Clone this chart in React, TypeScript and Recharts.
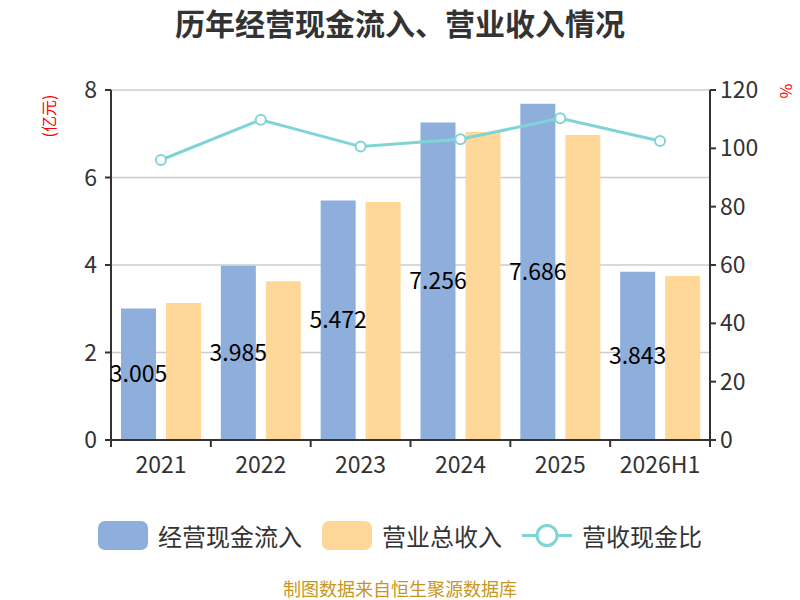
import React from 'react';
import {
  ComposedChart,
  Bar,
  Line,
  CartesianGrid,
  XAxis,
  YAxis,
  LabelList,
} from 'recharts';

const years = ['2021', '2022', '2023', '2024', '2025', '2026H1'];
const cashInflow = [3.005, 3.985, 5.472, 7.256, 7.686, 3.843];
const revenue = [3.13, 3.63, 5.44, 7.04, 6.97, 3.75];
const ratio = [96.0, 109.8, 100.6, 103.1, 110.3, 102.5];
const leftTicks = [0, 2, 4, 6, 8];
const rightTicks = [0, 20, 40, 60, 80, 100, 120];

const BLUE = '#8EAEDB';
const ORANGE = '#FFD899';
const TEAL = '#80D4D6';
const TEXT = '#333';
const FONT = '"Noto Sans CJK SC", "Noto Sans", sans-serif';

const W = 800;
const H = 600;
const MARGIN = { top: 90, right: 30, bottom: 120, left: 51 };
const Y_W = 60;
const HALF_BAND = (W - MARGIN.left - MARGIN.right - Y_W * 2) / years.length / 2;

const data = years.map((year, i) => ({
  year,
  cash: cashInflow[i],
  revenue: revenue[i],
  ratio: ratio[i],
}));

const XTick = (props: any) => {
  const { x, y, payload, index } = props;
  return (
    <g>
      <line x1={x - HALF_BAND} y1={y} x2={x - HALF_BAND} y2={y + 7} stroke={TEXT} strokeWidth={2} />
      {index === years.length - 1 && (
        <line x1={x + HALF_BAND} y1={y} x2={x + HALF_BAND} y2={y + 7} stroke={TEXT} strokeWidth={2} />
      )}
      <text x={x} y={y + 33} textAnchor="middle" fill={TEXT} fontSize={23} fontFamily={FONT}>
        {payload.value}
      </text>
    </g>
  );
};

const LegendItem = ({ kind, color, label }: { kind: 'bar' | 'line'; color: string; label: string }) => (
  <div style={{ display: 'flex', alignItems: 'center', marginRight: 20 }}>
    {kind === 'bar' ? (
      <div style={{ width: 50, height: 29, borderRadius: 7, background: color, marginRight: 10 }} />
    ) : (
      <svg width={50} height={29} style={{ marginRight: 10 }}>
        <line x1={0} y1={14.5} x2={50} y2={14.5} stroke={color} strokeWidth={3} />
        <circle cx={25} cy={14.5} r={10} fill="#fff" stroke={color} strokeWidth={3} />
      </svg>
    )}
    <span style={{ fontSize: 24, color: TEXT, lineHeight: '29px' }}>{label}</span>
  </div>
);

const App = () => {
  return (
    <div style={{ position: 'absolute', left: 0, top: 0, width: W, height: H, background: '#fff', fontFamily: FONT }}>
      <div
        style={{
          position: 'absolute',
          top: 2,
          width: W,
          textAlign: 'center',
          fontSize: 30,
          lineHeight: '40px',
          fontWeight: 'bold',
          color: TEXT,
        }}
      >
        历年经营现金流入、营业收入情况
      </div>
      <ComposedChart width={W} height={H} data={data} margin={MARGIN} barCategoryGap="10%" barGap={10}>
        <CartesianGrid vertical={false} stroke="#ccc" strokeWidth={1.5} yAxisId="left" />
        <XAxis
          dataKey="year"
          tick={<XTick />}
          tickLine={false}
          tickSize={0}
          tickMargin={0}
          axisLine={{ stroke: TEXT, strokeWidth: 2 }}
          interval={0}
          height={40}
        />
        <YAxis
          yAxisId="left"
          domain={[0, 8]}
          ticks={leftTicks}
          width={Y_W}
          axisLine={{ stroke: TEXT, strokeWidth: 2 }}
          tickLine={{ stroke: TEXT, strokeWidth: 2 }}
          tickSize={6}
          tickMargin={8}
          tick={{ fill: TEXT, fontSize: 23, fontFamily: FONT }}
        />
        <YAxis
          yAxisId="right"
          orientation="right"
          domain={[0, 120]}
          ticks={rightTicks}
          width={Y_W}
          axisLine={{ stroke: TEXT, strokeWidth: 2 }}
          tickLine={{ stroke: TEXT, strokeWidth: 2 }}
          tickSize={6}
          tickMargin={4}
          tick={{ fill: TEXT, fontSize: 23, fontFamily: FONT }}
        />
        <Bar yAxisId="left" dataKey="cash" name="经营现金流入" fill={BLUE} barSize={35} isAnimationActive={false}>
          <LabelList dataKey="cash" position="center" fill="#000" fontSize={23} fontFamily={FONT} />
        </Bar>
        <Bar yAxisId="left" dataKey="revenue" name="营业总收入" fill={ORANGE} barSize={35} isAnimationActive={false} />
        <Line
          yAxisId="right"
          dataKey="ratio"
          name="营收现金比"
          stroke={TEAL}
          strokeWidth={3}
          dot={{ r: 5, fill: '#fff', stroke: TEAL, strokeWidth: 2 }}
          isAnimationActive={false}
        />
      </ComposedChart>
      <div
        style={{
          position: 'absolute',
          left: 48,
          top: 116,
          color: 'red',
          fontSize: 16,
          lineHeight: '18px',
          transform: 'translate(-50%, -50%) rotate(-90deg)',
          whiteSpace: 'nowrap',
        }}
      >
        (亿元)
      </div>
      <div
        style={{
          position: 'absolute',
          left: 787,
          top: 91,
          color: 'red',
          fontSize: 16,
          lineHeight: '18px',
          transform: 'translate(-50%, -50%) rotate(90deg)',
        }}
      >
        %
      </div>
      <div
        style={{
          position: 'absolute',
          top: 521,
          width: W,
          display: 'flex',
          justifyContent: 'center',
          paddingLeft: 20,
          boxSizing: 'border-box',
        }}
      >
        <LegendItem kind="bar" color={BLUE} label="经营现金流入" />
        <LegendItem kind="bar" color={ORANGE} label="营业总收入" />
        <LegendItem kind="line" color={TEAL} label="营收现金比" />
      </div>
      <div
        style={{
          position: 'absolute',
          top: 578,
          width: W,
          textAlign: 'center',
          fontSize: 18,
          lineHeight: '20px',
          color: '#C8961E',
        }}
      >
        制图数据来自恒生聚源数据库
      </div>
    </div>
  );
};

export default App;
